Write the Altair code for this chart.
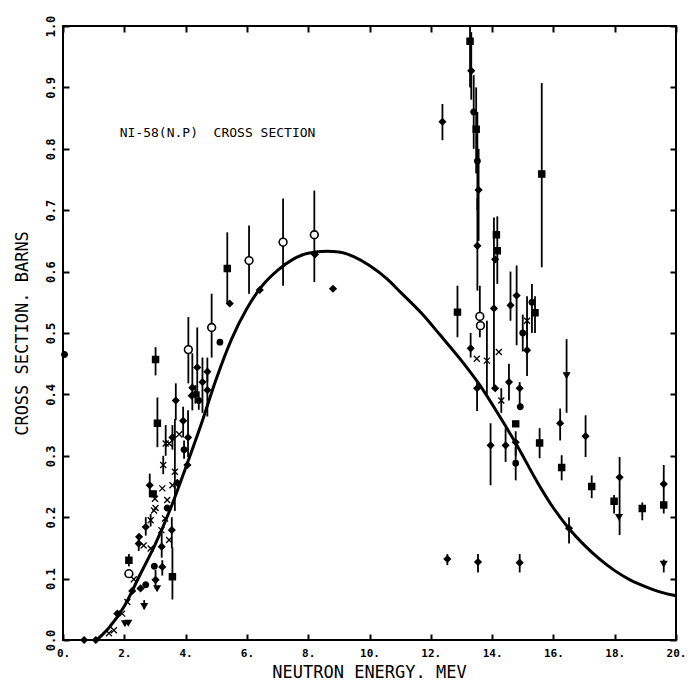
import altair as alt
import pandas as pd

FONT = "DejaVu Sans Mono"

# ---- evaluated curve ----
curve_e = [1.1, 1.5, 2.0, 2.5, 3.0, 3.5, 4.0, 4.5, 5.0, 5.5, 6.0, 6.5, 7.0, 7.5, 8.0, 8.6,
           9.0, 9.5, 10.0, 10.6, 11.0, 11.7, 12.3, 13.0, 13.6, 14.2, 14.8, 15.5, 16.0,
           16.5, 17.0, 17.5, 18.0, 18.5, 19.0, 19.5, 20.0]
curve_xs = [0.0, 0.02, 0.055, 0.105, 0.155, 0.213, 0.28, 0.35, 0.425, 0.49, 0.54, 0.577,
            0.602, 0.62, 0.63, 0.633, 0.632, 0.624, 0.61, 0.587, 0.567, 0.532, 0.497, 0.455,
            0.415, 0.368, 0.318, 0.255, 0.215, 0.182, 0.155, 0.132, 0.113, 0.098, 0.087, 0.078, 0.072]

# ---- measured points: energy, cross section, error-bar low/high, marker ----
pt_e = [0.05, 0.69, 1.07, 1.50, 1.66, 1.77, 1.93, 2.02, 2.13, 2.10,
        2.26, 2.15, 2.15, 2.31, 2.47, 2.48, 2.53, 2.65, 2.63, 2.70,
        2.70, 2.83, 2.86, 2.86, 2.94, 2.97, 3.00, 2.98, 3.02, 3.08,
        3.02, 3.07, 3.02, 3.21, 3.22, 3.24, 3.24, 3.27, 3.33, 3.35,
        3.40, 3.40, 3.46, 3.46, 3.55, 3.57, 3.57, 3.57, 3.65, 3.68,
        3.73, 3.79, 3.92, 3.95, 4.06, 4.08, 4.09, 4.20, 4.22, 4.32,
        4.38, 4.43, 4.55, 4.71, 4.71, 4.85, 5.12, 5.36, 5.44, 6.07,
        6.42, 7.18, 8.20, 8.22, 8.81,
        12.38, 12.54, 12.87, 13.28, 13.32, 13.40, 13.48, 13.52, 13.56, 13.52,
        13.30, 13.50, 13.51, 13.54, 13.60, 13.62, 13.83, 13.95, 14.06, 14.10,
        14.14, 14.17, 14.10, 14.22, 14.30, 14.44, 14.55, 14.60, 14.77, 14.77,
        14.77, 14.80, 14.90, 14.90, 14.92, 15.00, 15.14, 15.14, 15.30, 15.40,
        15.55, 15.62, 16.22, 16.27, 16.43, 16.51, 17.05, 17.25, 17.98, 18.16,
        18.14, 18.90, 19.60, 19.60, 19.60]
pt_xs = [0.465, 0.0, 0.0, 0.011, 0.016, 0.043, 0.043, 0.027, 0.028, 0.062,
         0.080, 0.130, 0.108, 0.099, 0.157, 0.168, 0.084, 0.055, 0.154, 0.184,
         0.090, 0.252, 0.149, 0.195, 0.238, 0.211, 0.230, 0.120, 0.457, 0.353,
         0.098, 0.084, 0.215, 0.179, 0.152, 0.119, 0.247, 0.285, 0.198, 0.320,
         0.215, 0.228, 0.320, 0.163, 0.179, 0.103, 0.252, 0.330, 0.274, 0.390,
         0.256, 0.335, 0.357, 0.310, 0.285, 0.330, 0.473, 0.398, 0.411, 0.400,
         0.444, 0.390, 0.420, 0.437, 0.407, 0.509, 0.485, 0.605, 0.548, 0.618,
         0.570, 0.648, 0.660, 0.628, 0.572,
         0.844, 0.132, 0.534, 0.975, 0.927, 0.860, 0.832, 0.780, 0.733, 0.642,
         0.475, 0.458, 0.410, 0.127, 0.527, 0.512, 0.455, 0.317, 0.540, 0.620,
         0.660, 0.634, 0.410, 0.469, 0.390, 0.317, 0.420, 0.545, 0.288, 0.322,
         0.352, 0.561, 0.410, 0.126, 0.380, 0.500, 0.520, 0.472, 0.550, 0.533,
         0.321, 0.759, 0.353, 0.281, 0.431, 0.182, 0.332, 0.250, 0.226, 0.265,
         0.200, 0.214, 0.254, 0.220, 0.124]
pt_lo = [None, None, None, None, None, None, None, None, None, None,
         None, 0.120, None, None, 0.145, None, None, 0.050, None, 0.170,
         None, 0.233, None, 0.185, None, None, None, None, 0.431, 0.314,
         0.083, None, None, None, 0.134, 0.105, None, 0.270, None, 0.300,
         None, None, None, None, 0.150, 0.066, None, 0.310, 0.210, 0.358,
         None, None, 0.330, 0.295, None, 0.298, 0.418, None, 0.374, 0.385,
         0.396, 0.375, 0.370, 0.420, 0.364, 0.460, None, 0.548, None, 0.564,
         None, 0.577, 0.583, None, None,
         0.814, 0.122, 0.493, 0.900, 0.880, 0.800, 0.760, 0.700, 0.650, 0.569,
         0.460, None, 0.373, 0.110, 0.493, None, 0.400, 0.252, 0.407, None,
         None, 0.580, None, None, 0.370, 0.290, 0.390, 0.520, 0.260, 0.300,
         None, 0.480, 0.382, 0.110, None, 0.470, 0.490, 0.430, 0.500, 0.500,
         0.296, 0.607, 0.325, 0.260, 0.370, 0.157, 0.298, 0.231, 0.206, 0.171,
         None, 0.195, 0.206, None, 0.110]
pt_hi = [None, None, None, None, None, None, None, None, None, None,
         None, 0.140, None, None, 0.170, None, None, 0.065, None, 0.200,
         None, 0.271, None, 0.205, None, None, None, None, 0.477, 0.395,
         0.114, None, None, None, 0.180, 0.130, None, 0.300, None, 0.350,
         None, None, None, None, 0.200, 0.151, None, 0.350, 0.360, 0.418,
         None, None, 0.380, 0.325, None, 0.374, 0.526, None, 0.467, 0.415,
         0.509, 0.405, 0.460, 0.460, 0.433, 0.564, None, 0.664, None, 0.675,
         None, 0.719, 0.732, None, None,
         0.873, 0.140, 0.577, 1.000, 0.990, 0.920, 0.900, 0.860, 0.800, 0.720,
         0.500, None, 0.422, 0.140, 0.577, None, 0.520, 0.353, 0.688, None,
         None, 0.690, None, None, 0.410, 0.345, 0.450, 0.600, 0.314, 0.340,
         None, 0.610, 0.420, 0.140, None, 0.530, 0.560, 0.520, 0.580, 0.560,
         0.345, 0.907, 0.377, 0.301, 0.490, 0.200, 0.366, 0.268, 0.236, 0.298,
         None, 0.224, 0.285, None, 0.131]
pt_mk = [".", "D", "D", "X", "X", "D", "X", "T", "T", "X",
         "D", "S", "O", "X", "D", "D", "D", "T", "X", "D",
         ".", "D", "X", "X", "S", "X", "X", ".", "S", "S",
         "D", "T", "X", "X", "D", "D", "X", "X", "X", "X",
         ".", "X", "X", "X", "D", "S", "X", "D", "X", "D",
         "D", "X", "D", ".", "D", "D", "O", "D", "D", ".",
         "D", ".", "D", "D", "D", "O", "C", "S", "D", "O",
         "D", "O", "O", "D", "D",
         "D", "D", "S", "S", "D", ".", "S", ".", "D", "D",
         "D", "X", "D", "D", "O", "O", "X", "D", "D", "D",
         "S", "S", "D", "X", "X", "D", "D", "D", "C", "D",
         "S", "D", "D", "D", ".", ".", "X", "D", ".", "S",
         "S", "S", "D", "S", "T", "D", "D", "S", "S", "D",
         "T", "S", "D", "S", "T"]

# ---- texts and ticks ----
x_ticks = [0, 2, 4, 6, 8, 10, 12, 14, 16, 18, 20]
y_ticks = [0.0, 0.1, 0.2, 0.3, 0.4, 0.5, 0.6, 0.7, 0.8, 0.9, 1.0]
x_title = "NEUTRON ENERGY. MEV"
y_title = "CROSS SECTION. BARNS"
note_text = ["NI-58(N.P)\u00a0\u00a0CROSS SECTION"]
note_e = [1.85]
note_xs = [0.826]

curve = pd.DataFrame({"e": curve_e, "xs": curve_xs})
pts = pd.DataFrame({"e": pt_e, "xs": pt_xs, "lo": pt_lo, "hi": pt_hi, "mk": pt_mk})
bars = pts.dropna(subset=["lo", "hi"])
note = pd.DataFrame({"e": note_e, "xs": note_xs, "t": note_text})

xscale = alt.Scale(domain=[0, 20], nice=False, zero=False)
yscale = alt.Scale(domain=[0, 1], nice=False, zero=False)

tick_style = dict(labels=False, domain=False, grid=False, ticks=True, tickSize=6,
                  tickWidth=2, tickColor="black", offset=-6, title=None)

# curve layer carries the labelled axes
line = alt.Chart(curve).mark_line(color="black", strokeWidth=3, interpolate="monotone").encode(
    x=alt.X("e:Q", scale=xscale, axis=alt.Axis(
        orient="bottom", values=x_ticks, labelExpr="datum.value + '.'",
        ticks=False, tickSize=0, domain=False, grid=False, labelPadding=7,
        labelFontSize=11, labelFontWeight="bold", labelFont=FONT, labelColor="black",
        labelFlush=False,
        title=x_title, titleFont=FONT, titleFontSize=17, titleFontWeight="normal",
        titleColor="black", titleX=306, titleY=32, titleAlign="center",
        titleBaseline="middle")),
    y=alt.Y("xs:Q", scale=yscale, axis=alt.Axis(
        orient="left", values=y_ticks, format=".1f", labelAngle=270,
        labelAlign="center", labelBaseline="middle", labelPadding=13,
        ticks=False, tickSize=0, domain=False, grid=False, labelFontSize=12,
        labelFontWeight="bold", labelFont=FONT, labelColor="black", labelFlush=False,
        title=y_title, titleFont=FONT, titleFontSize=17, titleFontWeight="normal",
        titleColor="black", titleAngle=270, titleX=-41, titleY=307,
        titleAlign="center", titleBaseline="middle")),
)

# error bars carry inward ticks on bottom and left
rules = alt.Chart(bars).mark_rule(color="black", strokeWidth=1.8).encode(
    x=alt.X("e:Q", scale=xscale, axis=alt.Axis(orient="bottom", values=x_ticks, **tick_style)),
    y=alt.Y("lo:Q", scale=yscale, axis=alt.Axis(orient="left", values=y_ticks, **tick_style)),
    y2="hi:Q",
)

shape_scale = alt.Scale(
    domain=["D", "S", "X", "T", ".", "C"],
    range=["diamond", "square", "M-1,-1L1,1M-1,1L1,-1", "triangle-down", "circle", "circle"],
)
size_scale = alt.Scale(domain=["D", "S", "X", "T", ".", "C"], range=[40, 30, 28, 30, 3, 45])

# filled markers carry inward ticks on top and right
filled = alt.Chart(pts).transform_filter("datum.mk != 'O'").mark_point(
    filled=True, fill="black", stroke="black", strokeWidth=1.3, opacity=1
).encode(
    x=alt.X("e:Q", scale=xscale, axis=alt.Axis(orient="top", values=x_ticks, **tick_style)),
    y=alt.Y("xs:Q", scale=yscale, axis=alt.Axis(orient="right", values=y_ticks, **tick_style)),
    shape=alt.Shape("mk:N", scale=shape_scale, legend=None),
    size=alt.Size("mk:N", scale=size_scale, legend=None),
)

opened = alt.Chart(pts).transform_filter("datum.mk == 'O'").mark_point(
    shape="circle", size=60, fill="white", stroke="black", strokeWidth=1.6, opacity=1
).encode(
    x=alt.X("e:Q", scale=xscale, axis=None),
    y=alt.Y("xs:Q", scale=yscale, axis=None),
)

label = alt.Chart(note).mark_text(
    align="left", baseline="middle", font=FONT, fontSize=13, color="black"
).encode(
    x=alt.X("e:Q", scale=xscale, axis=None),
    y=alt.Y("xs:Q", scale=yscale, axis=None),
    text="t:N",
)

chart = alt.layer(line, rules, filled, opened, label).resolve_axis(
    x="independent", y="independent"
).properties(
    width=613, height=614,
    padding={"left": 63, "top": 26, "right": 16, "bottom": 40},
    autosize=alt.AutoSizeParams(type="none"),
    background="white",
).configure_view(stroke="black", strokeWidth=2)

chart.save("out.html", embed_options={"renderer": "svg", "actions": False})
